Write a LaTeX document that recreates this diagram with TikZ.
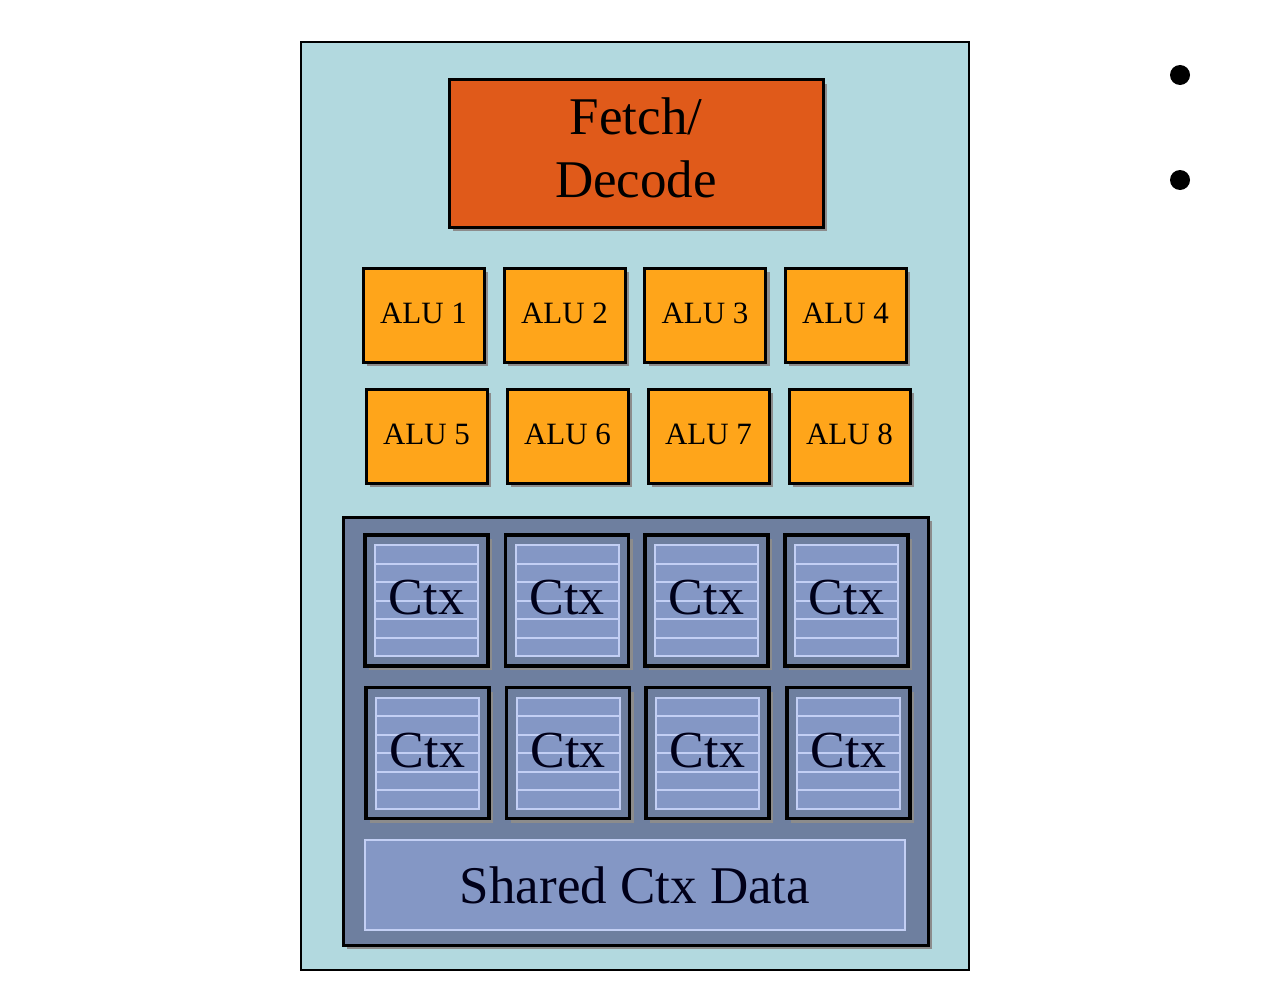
\documentclass[tikz,border=0pt]{standalone}
\usepackage{fontspec}
\setmainfont{Liberation Serif}
\usetikzlibrary{shadows,calc}
\definecolor{corebg}{HTML}{B2D9DF}
\definecolor{fetchc}{HTML}{E05A1A}
\definecolor{aluc}{HTML}{FFA51A}
\definecolor{slate}{HTML}{6E7F9F}
\definecolor{innerc}{HTML}{8497C5}
\definecolor{stripec}{HTML}{C3CFF4}
\tikzset{
  shd/.style={drop shadow={shadow xshift=4pt,shadow yshift=-4pt,fill=black!45,opacity=1}},
  fetchbox/.style={draw=black,line width=3pt,fill=fetchc,shd,minimum width=374pt,minimum height=147pt,inner sep=0pt,font=\fontsize{53}{63}\selectfont},
  alubox/.style={draw=black,line width=3pt,fill=aluc,shd,minimum width=121pt,minimum height=94pt,inner sep=0pt,font=\fontsize{31}{31}\selectfont},
  container/.style={draw=black,line width=3pt,fill=slate,shd,minimum width=585pt,minimum height=428pt,inner sep=0pt},
  ctxcell/.style={draw=black,line width=3.5pt,fill=slate,shd,minimum width=123pt,minimum height=131pt,inner sep=0pt},
  ctxinner/.style={draw=stripec,line width=2pt,fill=innerc,minimum width=103pt,minimum height=111pt,inner sep=0pt,text=black!90!blue,font=\fontsize{52}{52}\selectfont,
    path picture={\foreach \i in {1,...,5}{\draw[stripec,line width=2pt] ($(path picture bounding box.north west)!\i/6!(path picture bounding box.south west)$) -- ($(path picture bounding box.north east)!\i/6!(path picture bounding box.south east)$);}}},
  sharedbox/.style={draw=stripec,line width=2pt,fill=innerc,minimum width=540pt,minimum height=90pt,inner sep=0pt,text=black!90!blue,font=\fontsize{53}{53}\selectfont},
  bulletdot/.style={circle,fill=black,minimum size=20pt,inner sep=0pt}
}
\begin{document}
\begin{tikzpicture}[x=1pt,y=-1pt]
\useasboundingbox (0,0) rectangle (1261,990);
\fill[white] (0,0) rectangle (1261,990);
\node[draw=black,line width=2.5pt,fill=corebg,minimum width=668pt,minimum height=928pt,inner sep=0pt] (core) at (635,506) {};
\node[fetchbox] (fetch) at (636,153.5) {\raisebox{4pt}{\begin{tabular}{@{}c@{}}Fetch/\\Decode\end{tabular}}};
\node[alubox] (alu1) at (423.5,315) {\raisebox{3pt}{ALU 1}};
\node[alubox] (alu2) at (564.5,315) {\raisebox{3pt}{ALU 2}};
\node[alubox] (alu3) at (705,315) {\raisebox{3pt}{ALU 3}};
\node[alubox] (alu4) at (845.5,315) {\raisebox{3pt}{ALU 4}};
\node[alubox] (alu5) at (426.5,436) {\raisebox{3pt}{ALU 5}};
\node[alubox] (alu6) at (567.5,436) {\raisebox{3pt}{ALU 6}};
\node[alubox] (alu7) at (708.5,436) {\raisebox{3pt}{ALU 7}};
\node[alubox] (alu8) at (849.5,436) {\raisebox{3pt}{ALU 8}};
\node[container] (ctxarea) at (635.5,731) {};
\foreach \n/\x/\y in {c1/426.5/600.5,c2/567/600.5,c3/706.5/600.5,c4/846.5/600.5,c5/427.5/753,c6/568/753,c7/707.5/753,c8/848.5/753}{
  \node[ctxcell] (\n) at (\x,\y) {};
  \node[ctxinner] (\n i) at (\n) {\raisebox{6pt}{Ctx}};
}
\node[sharedbox] (shared) at (635,885) {Shared Ctx Data};
\node[bulletdot] (b1) at (1180,75) {};
\node[bulletdot] (b2) at (1180,180) {};
\end{tikzpicture}
\end{document}
